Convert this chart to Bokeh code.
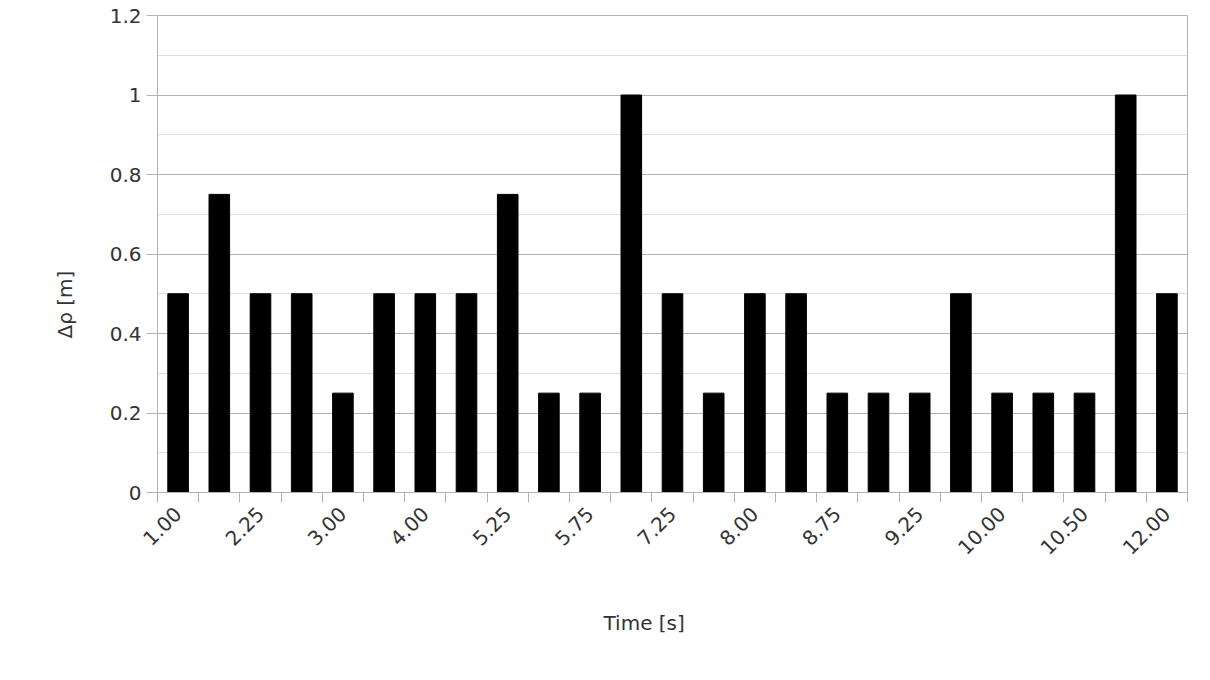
import math
from bokeh.plotting import figure
from bokeh.models import FixedTicker, CustomJSTickFormatter, Range1d, ColumnDataSource, Title
from bokeh.embed import file_html
from bokeh.resources import INLINE

# ---- data ----
time_labels = ["1.00", "1.75", "2.25", "2.50", "3.00", "3.50", "4.00", "4.75", "5.25", "5.50",
               "5.75", "6.50", "7.25", "7.75", "8.00", "8.50", "8.75", "9.00", "9.25", "9.75",
               "10.00", "10.25", "10.50", "11.00", "12.00"]
delta_rho = [0.5, 0.75, 0.5, 0.5, 0.25, 0.5, 0.5, 0.5, 0.75, 0.25,
             0.25, 1.0, 0.5, 0.25, 0.5, 0.5, 0.25, 0.25, 0.25, 0.5,
             0.25, 0.25, 0.25, 1.0, 0.5]
y_ticks = [0, 0.2, 0.4, 0.6, 0.8, 1.0, 1.2]
y_minor = [0.1, 0.3, 0.5, 0.7, 0.9, 1.1]
x_title = "Time [s]"
y_title = "Δρ [m]"

n = len(time_labels)
src = ColumnDataSource(dict(x=[i + 0.5 for i in range(n)], top=delta_rho, label=time_labels))

FONT = "DejaVu Sans"
GRID = "#b3b3b3"
TXT = "#333333"
FS = "20px"

p = figure(width=1203, height=679, output_backend="svg", toolbar_location=None,
           x_range=Range1d(0, n), y_range=Range1d(0, 1.2),
           min_border_left=157, min_border_right=16, min_border_top=15, min_border_bottom=170)
p.background_fill_color = "white"
p.border_fill_color = "white"
p.outline_line_color = GRID
p.outline_line_width = 1

p.vbar(x="x", top="top", width=0.5, bottom=0, source=src, fill_color="black", line_color="black")

# x axis
xa = p.xaxis[0]
xa.ticker = FixedTicker(ticks=[i + 0.5 for i in range(0, n, 2)], minor_ticks=list(range(n + 1)))
xa.formatter = CustomJSTickFormatter(args=dict(labels=time_labels),
                                     code="return labels[Math.floor(tick)];")
xa.major_tick_out = 0
xa.major_tick_in = 0
xa.minor_tick_out = 10
xa.minor_tick_in = 0
xa.minor_tick_line_color = GRID
xa.axis_line_color = GRID
xa.major_label_orientation = math.pi / 4
xa.major_label_text_font = FONT
xa.major_label_text_font_size = FS
xa.major_label_text_color = TXT
xa.major_label_standoff = 8

# y axis
ya = p.yaxis[0]
ya.ticker = FixedTicker(ticks=y_ticks, minor_ticks=y_minor)
ya.formatter = CustomJSTickFormatter(code="return String(Math.round(tick*10)/10);")
ya.major_tick_out = 11
ya.major_tick_in = 0
ya.minor_tick_out = 0
ya.minor_tick_in = 0
ya.major_tick_line_color = GRID
ya.axis_line_color = GRID
ya.major_label_text_font = FONT
ya.major_label_text_font_size = FS
ya.major_label_text_color = TXT
ya.major_label_standoff = 5

p.xgrid.visible = False
p.ygrid.grid_line_color = GRID
p.ygrid.minor_grid_line_color = "#dddddd"

# axis titles as side titles, shifted like the reference
p.add_layout(Title(text=x_title, align="left", offset=446, standoff=90,
                   text_font=FONT, text_font_size=FS, text_color=TXT, text_font_style="normal"), "below")
p.add_layout(Title(text=y_title, align="left", offset=154, standoff=59,
                   text_font=FONT, text_font_size=FS, text_color=TXT, text_font_style="normal"), "left")

open("out.html", "w").write(file_html(p, INLINE))
